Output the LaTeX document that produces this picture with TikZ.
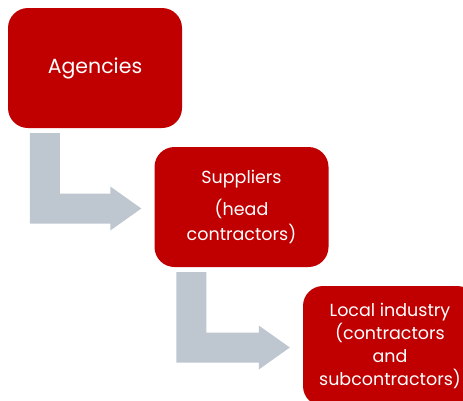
\documentclass[tikz,border=0pt]{standalone}
\usepackage{fontspec}
\setmainfont{Poppins}
\usetikzlibrary{calc}
\definecolor{boxred}{RGB}{192,0,0}
\definecolor{flowgray}{RGB}{190,198,207}
\tikzset{
  box/.style={fill=boxred,text=white,rounded corners=20pt,minimum width=174pt,minimum height=120pt,inner sep=0pt,align=center,font=\fontsize{17.5}{23}\selectfont},
  flow/.style={fill=flowgray}
}
\begin{document}
\begin{tikzpicture}[x=1pt,y=-1pt]
	\useasboundingbox (0,0) rectangle (463,400);
	\clip (0,0) rectangle (463,400);
	\node[box,font=\fontsize{20.5}{25}\selectfont] (agencies) at (95,68) {Agencies};
	\node[box,font=\fontsize{17.5}{25}\selectfont] (suppliers) at (241.5,207) {Suppliers\\[7pt](head\\contractors)};
	\node[box] (local) at (390,346) {Local industry\\(contractors\\and\\subcontractors)};
	\foreach \up/\down in {agencies/suppliers,suppliers/local}{
		\coordinate (s) at ($(\up.south west)+(22,5)$);
		\coordinate (t) at ($(\down.west)+(-13,1.5)$);
		\fill[flow] (s) -- ++(30,0) |- ($(t)+(-31,-15)$) -- ++(0,-7) -- (t) -- ($(t)+(-31,22)$) -- ++(0,-7) -| (s) -- cycle;
	}
\end{tikzpicture}
\end{document}
